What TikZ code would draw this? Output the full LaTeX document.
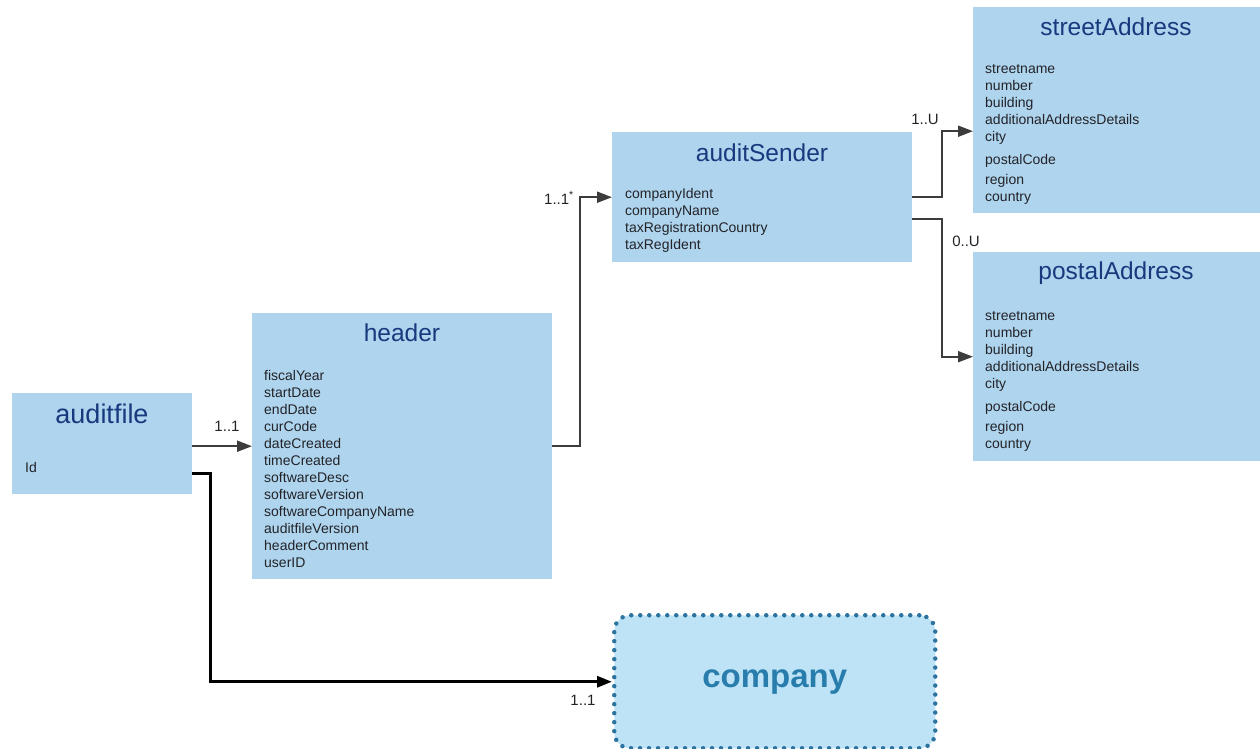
\documentclass[tikz,border=0pt]{standalone}
\usepackage{fontspec}
\setmainfont{Liberation Sans}
\usetikzlibrary{arrows.meta}
\definecolor{boxblue}{RGB}{174,212,238}
\definecolor{titleblue}{RGB}{22,58,125}
\definecolor{fieldgray}{RGB}{35,35,40}
\definecolor{linegray}{RGB}{60,60,60}
\definecolor{compfill}{RGB}{190,227,246}
\definecolor{compdot}{RGB}{45,115,160}
\definecolor{comptext}{RGB}{40,125,172}
\tikzset{
	entity/.style = {rectangle, fill=boxblue, anchor=north west, inner sep=0pt},
	title/.style = {text=titleblue, inner sep=0pt, font=\fontsize{24.5}{28}\selectfont},
	fields/.style = {anchor=north west, inner sep=0pt, align=left, text=fieldgray, font=\fontsize{14}{17}\selectfont},
	mult/.style = {inner sep=0pt, text=fieldgray, font=\fontsize{15}{17}\selectfont},
	line/.style = {draw=linegray, line width=2pt, -{Triangle[length=15pt,width=11pt]}},
	strongline/.style = {draw=black, line width=3pt, -{Triangle[length=15pt,width=11pt]}},
	dotbox/.style = {rectangle, rounded corners=16pt, fill=compfill, draw=compdot, line width=4.5pt, line cap=round, dash pattern=on 0pt off 9pt, anchor=north west, text=comptext, font=\bfseries\fontsize{33}{36}\selectfont}
}
\begin{document}
\begin{tikzpicture}[x=1pt, y=-1pt]
		\useasboundingbox (0,0) rectangle (1260,749);
		%Boxen
		\node (auditfile) [entity, minimum width=180pt, minimum height=101pt] at (12,393) {};
		\node (header) [entity, minimum width=300pt, minimum height=266pt] at (252,313) {};
		\node (auditSender) [entity, minimum width=300pt, minimum height=130pt] at (612,132) {};
		\node (streetAddress) [entity, minimum width=290pt, minimum height=206pt] at (973,7) {};
		\node (postalAddress) [entity, minimum width=290pt, minimum height=209pt] at (973,252) {};
		\node (company) [dotbox, minimum width=321pt, minimum height=133pt] at (612,613) {company};

		%Titel und Felder
		\node (auditfile_t) [title, font=\fontsize{27}{30}\selectfont] at (102,414) {auditfile};
		\node (auditfile_f) [fields] at (25,462) {Id};
		\node (header_t) [title] at (402,333) {header};
		\node (header_f) [fields] at (264,370) {fiscalYear\\startDate\\endDate\\curCode\\dateCreated\\timeCreated\\softwareDesc\\softwareVersion\\softwareCompanyName\\auditfileVersion\\headerComment\\userID};
		\node (auditSender_t) [title] at (762,153) {auditSender};
		\node (auditSender_f) [fields] at (625,188) {companyIdent\\companyName\\taxRegistrationCountry\\taxRegIdent};
		\node (streetAddress_t) [title] at (1116,27) {streetAddress};
		\node (streetAddress_f) [fields] at (985,64) {streetname\\number\\building\\additionalAddressDetails\\city\\[6pt]postalCode\\[3pt]region\\country};
		\node (postalAddress_t) [title] at (1116,273) {postalAddress};
		\node (postalAddress_f) [fields] at (985,311) {streetname\\number\\building\\additionalAddressDetails\\city\\[6pt]postalCode\\[3pt]region\\country};

		%Verbindungen
		\path [line] (auditfile.east |- header.west) -- (header.west);
		\path [strongline] ([yshift=-29.5pt]auditfile.east) -| ++(18,0) |- (company.west);
		\path [line] (header.east) -- ++(28,0) |- (auditSender.west);
		\path [line] (auditSender.east) -- ++(30,0) |- ([yshift=-21pt]streetAddress.west);
		\path [line] ([yshift=-22pt]auditSender.east) -- ++(30,0) |- (postalAddress.west);

		%Kardinalitaeten
		\node (m_header) [mult] at (227,426) {1..1};
		\node (m_company) [mult] at (583,700) {1..1};
		\node (m_sender) [mult] at (559,198) {1..1\textsuperscript{*}};
		\node (m_street) [mult] at (925,119) {1..U};
		\node (m_postal) [mult] at (966,241) {0..U};
\end{tikzpicture}
\end{document}
